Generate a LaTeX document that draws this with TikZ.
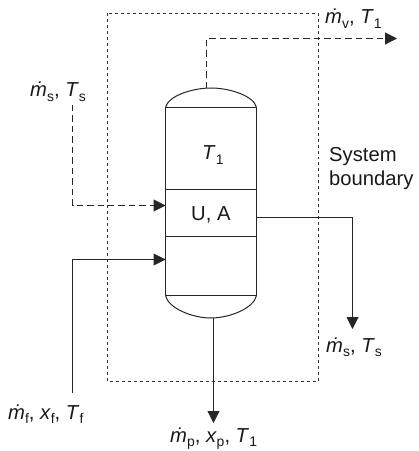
\documentclass[tikz,border=0pt]{standalone}
\usepackage{fontspec}
\setmainfont{Liberation Sans}
\usetikzlibrary{arrows.meta}
\newcommand{\mysub}[1]{\raisebox{-0.2em}{\fontsize{14}{15}\selectfont #1}}
\newcommand{\mdot}{\textit{\.m}}
\tikzset{
  x=1bp,y=-1bp,
  vessel/.style={line width=1bp,draw=black!85},
  stream/.style={line width=1bp,draw=black!85,-{Triangle[length=12pt,width=12pt]}},
  steam/.style={stream,dash pattern=on 6.5pt off 4pt},
  boundary/.style={line width=1bp,draw=black!80,dash pattern=on 3pt off 3pt},
  lab/.style={font=\fontsize{20.3}{22}\selectfont,text=black!90,inner sep=0pt,anchor=base west},
}
\begin{document}
\begin{tikzpicture}
\useasboundingbox (0,0) rectangle (418,451);
% system boundary
\draw[boundary] (107.5,13.5) rectangle (318.5,381.5);
% vessel
\coordinate (tl) at (165.5,107.5);
\coordinate (tr) at (256.5,107.5);
\coordinate (bl) at (165.5,295.5);
\coordinate (br) at (256.5,295.5);
\coordinate (top) at (206.5,88);
\coordinate (bot) at (213.5,318);
\draw[vessel] (tl) -- (bl) (tr) -- (br) (tl) -- (tr) (bl) -- (br);
\draw[vessel] (165.5,189.5) -- (256.5,189.5) (165.5,236.5) -- (256.5,236.5);
\draw[vessel] (tl) .. controls (168,96) and (192,88) .. (211,88) .. controls (230,88) and (254,96) .. (tr);
\draw[vessel] (bl) .. controls (168,308) and (192,318) .. (211,318) .. controls (230,318) and (254,308) .. (br);
% streams
\coordinate (ventend) at (397,38.5);
\draw[steam] (top) -- (206.5,38.5) -- (ventend);
\coordinate (steamstart) at (72.5,105);
\coordinate (steamin) at (165.5,205.5);
\draw[steam] (steamstart) -- (72.5,205.5) -- (steamin);
\coordinate (condstart) at (256.5,217.5);
\coordinate (condend) at (352.5,329);
\draw[stream] (condstart) -- (352.5,217.5) -- (condend);
\coordinate (feedstart) at (72.5,393);
\coordinate (feedin) at (165.5,259.5);
\draw[stream] (feedstart) -- (72.5,259.5) -- (feedin);
\coordinate (prodend) at (213.5,423);
\draw[stream] (bot) -- (prodend);
% labels
\node[lab] (lv) at (325,24) {\mdot\mysub{v}, \textit{T}\mysub{1}};
\node[lab] (lsi) at (30,97) {\mdot\mysub{s}, \textit{T}\mysub{s}};
\node[lab] (lt) at (202,160) {\textit{T}\mysub{1}};
\node[lab] (lua) at (191,221) {U, A};
\node[lab] (lsys1) at (329,162) {System};
\node[lab] (lsys2) at (329,186) {boundary};
\node[lab] (lso) at (326,352) {\mdot\mysub{s}, \textit{T}\mysub{s}};
\node[lab] (lf) at (8,419) {\mdot\mysub{f}, \textit{x}\mysub{f}, \textit{T}\mysub{f}};
\node[lab] (lp) at (170,442) {\mdot\mysub{p}, \textit{x}\mysub{p}, \textit{T}\mysub{1}};
\end{tikzpicture}
\end{document}
